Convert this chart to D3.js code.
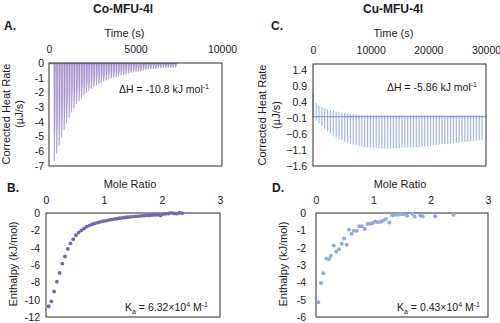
<!DOCTYPE html>
<html><head><meta charset="utf-8">
<script src="https://cdn.jsdelivr.net/npm/d3@7"></script>
<style>
body{margin:0;background:#fff}
svg{display:block}
text{font-family:"Liberation Sans",Arial,sans-serif;fill:#1a1a1a}
</style>
</head><body>
<svg id="chart" width="500" height="323"></svg>
<script>
// ---------- Panel A: Co-MFU-4l raw heat rate ----------
const coInjTime = [300,443,586,729,872,1015,1158,1301,1444,1587,1730,1873,2016,2159,2302,2445,2588,2731,2874,3017,3160,3303,3446,3589,3732,3875,4018,4161,4304,4447,4590,4733,4876,5019,5162,5305,5448,5591,5734,5877,6020,6163,6306,6449,6592,6735,6878,7021,7164,7307];
const coPeak = [-6.70,-6.15,-5.60,-5.05,-4.55,-4.10,-3.70,-3.35,-3.05,-2.80,-2.60,-2.40,-2.20,-2.03,-1.88,-1.75,-1.63,-1.52,-1.42,-1.33,-1.25,-1.18,-1.11,-1.05,-0.99,-0.94,-0.89,-0.84,-0.80,-0.76,-0.72,-0.68,-0.64,-0.60,-0.57,-0.54,-0.51,-0.48,-0.45,-0.43,-0.41,-0.39,-0.37,-0.36,-0.35,-0.34,-0.33,-0.32,-0.31,-0.30];

// ---------- Panel B: Co-MFU-4l integrated enthalpy ----------
const coRatio = [0.046,0.093,0.140,0.187,0.234,0.281,0.328,0.375,0.422,0.469,0.516,0.563,0.610,0.657,0.704,0.751,0.798,0.845,0.892,0.939,0.986,1.033,1.080,1.127,1.174,1.221,1.268,1.315,1.362,1.409,1.456,1.503,1.550,1.597,1.644,1.691,1.738,1.785,1.832,1.879,1.926,1.973,2.020,2.067,2.114,2.161,2.208,2.255,2.302,2.349];
const coEnthalpy = [-10.76,-10.19,-9.06,-7.93,-6.91,-5.85,-5.02,-4.15,-3.51,-3.02,-2.57,-2.26,-2.00,-1.78,-1.58,-1.42,-1.30,-1.20,-1.10,-1.02,-0.95,-0.88,-0.82,-0.76,-0.70,-0.65,-0.60,-0.56,-0.52,-0.48,-0.44,-0.41,-0.38,-0.35,-0.33,-0.30,-0.28,-0.26,-0.24,-0.22,-0.20,-0.28,-0.12,-0.10,-0.06,0.02,-0.05,-0.08,0.03,-0.02];

// ---------- Panel C: Cu-MFU-4l raw heat rate ----------
const cuInjTime = [50,546,1042,1538,2034,2530,3026,3522,4018,4514,5010,5506,6002,6498,6994,7490,7986,8482,8978,9474,9970,10466,10962,11458,11954,12450,12946,13442,13938,14434,14930,15426,15922,16418,16914,17410,17906,18402,18898,19394,19890,20386,20882,21378,21874,22370,22866,23362,23858,24354,24850,25346,25842,26338,26834,27330,27826,28322,28818,29314];
const cuUp = [0.68,0.38,0.30,0.25,0.21,0.18,0.15,0.13,0.11,0.09,0.07,0.06,0.05,0.04,0.03,0.02,0.01,0.01,0.00,0.00,0.00,-0.01,0.00,-0.01,0.00,-0.01,-0.01,0.00,-0.01,0.00,-0.01,0.00,-0.01,-0.01,0.00,-0.01,0.00,-0.01,0.00,-0.01,-0.01,0.00,-0.01,0.00,-0.01,0.00,-0.01,-0.01,0.00,-0.01,0.00,-0.01,0.00,-0.01,-0.01,0.00,-0.01,0.00,-0.01,0.00];
const cuDown = [-0.10,-0.18,-0.26,-0.34,-0.43,-0.50,-0.57,-0.64,-0.70,-0.75,-0.80,-0.84,-0.87,-0.90,-0.93,-0.95,-0.97,-0.99,-1.00,-1.01,-1.02,-1.03,-1.04,-1.04,-1.05,-1.05,-1.05,-1.05,-1.04,-1.04,-1.04,-1.03,-1.03,-1.02,-1.02,-1.01,-1.00,-1.00,-0.99,-0.98,-0.97,-0.96,-0.95,-0.94,-0.93,-0.92,-0.91,-0.90,-0.89,-0.88,-0.87,-0.86,-0.85,-0.84,-0.83,-0.82,-0.81,-0.80,-0.79,-0.78];
const cuBaseline = [-0.05,-0.05];
const cuBaselineTime = [0,30000];

// ---------- Panel D: Cu-MFU-4l integrated enthalpy ----------
const cuRatio = [0.04,0.087,0.128,0.18,0.227,0.26,0.31,0.35,0.40,0.45,0.49,0.535,0.576,0.62,0.66,0.71,0.756,0.80,0.85,0.895,0.94,0.99,1.035,1.08,1.13,1.17,1.22,1.28,1.33,1.37,1.43,1.49,1.53,1.59,1.675,1.72,1.82,1.86,2.08,2.40];
const cuEnthalpy = [-5.15,-4.04,-3.47,-2.62,-2.66,-2.47,-1.87,-2.24,-2.09,-1.77,-1.47,-1.83,-0.96,-1.19,-1.02,-1.02,-0.77,-0.77,-0.92,-0.64,-0.62,-0.58,-0.49,-0.53,-0.51,-0.43,-0.34,-0.55,-0.13,-0.10,-0.10,-0.06,-0.07,-0.16,-0.04,-0.20,-0.14,-0.19,-0.19,-0.10];

// ---------- ticks ----------
const timeTicksA = [0,5000,10000];
const heatTicksA = [0,-1,-2,-3,-4,-5,-6,-7];
const timeTicksC = [0,10000,20000,30000];
const heatTicksC = [1.4,0.9,0.4,-0.1,-0.6,-1.1,-1.6];
const ratioTicks = [0,1,2,3];
const enthTicksB = [0,-2,-4,-6,-8,-10,-12];
const enthTicksD = [0,-1,-2,-3,-4,-5,-6];

const svg = d3.select("#chart");
const FS = "10.5px";

function frame(x, y, xTicks, yTicks, xPad, yPad, xFmt, yFmt){
  const g = svg.append("g");
  const [x0,x1] = x.range(), [y0,y1] = y.range();
  const ax = g.append("g").attr("transform",`translate(0,${y1})`)
    .call(d3.axisTop(x).tickValues(xTicks).tickSize(0).tickPadding(xPad).tickFormat(xFmt||d3.format("d")));
  const ay = g.append("g").attr("transform",`translate(${x0},0)`)
    .call(d3.axisLeft(y).tickValues(yTicks).tickSize(0).tickPadding(yPad).tickFormat(yFmt||(d=>String(d))));
  [ax,ay].forEach(a=>{a.select(".domain").remove();
    a.selectAll("text").attr("font-family","Liberation Sans, Arial, sans-serif").attr("font-size",FS).attr("fill","#1a1a1a");});
  ax.selectAll("text").attr("dy","0");
  return g;
}
function box(x,y){
  const [x0,x1]=x.range(), [y0,y1]=y.range();
  svg.append("rect").attr("x",x0).attr("y",y1).attr("width",x1-x0).attr("height",y0-y1)
    .attr("fill","none").attr("stroke","#2b2b2b").attr("stroke-width",1);
}
function text(x,y,s,opt={}){
  const t = svg.append("text").attr("x",x).attr("y",y).attr("font-size",opt.size||"11px")
    .attr("text-anchor",opt.anchor||"middle");
  if(opt.bold) t.attr("font-weight","bold");
  if(opt.rot) t.attr("transform",`rotate(-90,${x},${y})`);
  t.text(s); return t;
}

// ===== Panel A =====
const xA = d3.scaleLinear([0,10000],[49,222]);
const yA = d3.scaleLinear([-7,0],[166,63]);
frame(xA,yA,timeTicksA,heatTicksA,10.5,5);
const spikeLine = d3.line();
svg.append("g").selectAll("path").data(coInjTime.map((t,i)=>({t,v:coPeak[i]}))).join("path")
  .attr("d",d=>spikeLine([[xA(d.t)-0.3,yA(0)],[xA(d.t),yA(d.v)],[xA(d.t)+0.9,yA(d.v*0.6)],[xA(d.t)+1.2,yA(0)]]))
  .attr("fill","#ab98d6").attr("stroke","#9782c6").attr("stroke-width",0.5);
svg.append("line").attr("x1",xA(0)).attr("x2",xA(coInjTime[coInjTime.length-1])+1)
  .attr("y1",yA(-0.05)).attr("y2",yA(-0.05)).attr("stroke","#9782c6").attr("stroke-width",1);
box(xA,yA);

// ===== Panel B =====
const xB = d3.scaleLinear([0,3],[46,220]);
const yB = d3.scaleLinear([-12,0],[317,213]);
frame(xB,yB,ratioTicks,enthTicksB,9,6);
box(xB,yB);
svg.append("g").selectAll("circle").data(coRatio.map((r,i)=>({r,v:coEnthalpy[i]}))).join("circle")
  .attr("cx",d=>xB(d.r)).attr("cy",d=>yB(d.v)).attr("r",1.9).attr("fill","#7865ad");

// ===== Panel C =====
const xC = d3.scaleLinear([0,30000],[313,486]);
const yC = d3.scaleLinear([-1.6,1.6],[166,64]);
frame(xC,yC,timeTicksC,heatTicksC,10.5,6,d3.format("d"),d3.format(".1f"));
svg.append("g").selectAll("line").data(cuInjTime.map((t,i)=>({t,u:cuUp[i],d:cuDown[i]}))).join("line")
  .attr("x1",d=>xC(d.t)).attr("x2",d=>xC(d.t)).attr("y1",d=>yC(d.u)).attr("y2",d=>yC(d.d))
  .attr("stroke","#9db6e4").attr("stroke-width",1.2);
svg.append("path").attr("d",d3.line()(cuBaselineTime.map((t,i)=>[xC(t),yC(cuBaseline[i])])))
  .attr("stroke","#7f9fd8").attr("stroke-width",1.3).attr("fill","none");
box(xC,yC);

// ===== Panel D =====
const xD = d3.scaleLinear([0,3],[316,488]);
const yD = d3.scaleLinear([-6,0],[317,213]);
frame(xD,yD,ratioTicks,enthTicksD,9.5,10);
box(xD,yD);
svg.append("g").selectAll("circle").data(cuRatio.map((r,i)=>({r,v:cuEnthalpy[i]}))).join("circle")
  .attr("cx",d=>xD(d.r)).attr("cy",d=>yD(d.v)).attr("r",2).attr("fill","#8eaadf");

// ===== Titles & labels =====
text(123,13,"Co-MFU-4l",{bold:true,size:"12px"});
text(393,13,"Cu-MFU-4l",{bold:true,size:"12px"});
text(4,30,"A.",{bold:true,size:"12px",anchor:"start"});
text(271,30,"C.",{bold:true,size:"12px",anchor:"start"});
text(7,192,"B.",{bold:true,size:"12px",anchor:"start"});
text(272,192,"D.",{bold:true,size:"12px",anchor:"start"});
text(124.5,37,"Time (s)");
text(393.5,37,"Time (s)");
text(130,188,"Mole Ratio");
text(400,188,"Mole Ratio");
text(10,114,"Corrected Heat Rate",{rot:true});
text(23,114,"(µJ/s)",{rot:true});
text(266,115,"Corrected Heat Rate",{rot:true});
text(280,115,"(µJ/s)",{rot:true});
text(17,264,"Enthalpy (kJ/mol)",{rot:true});
text(287,264,"Enthalpy (kJ/mol)",{rot:true});

function dH(x,y,val){
  const t = svg.append("text").attr("x",x).attr("y",y).attr("font-size","10.5px").attr("text-anchor","start");
  t.append("tspan").text(`ΔH = ${val} kJ mol`);
  t.append("tspan").attr("dy",-4).attr("font-size","7px").text("-1");
}
dH(119,93,"-10.8");
dH(387,91,"-5.86");
function ka(x,y,val){
  const t = svg.append("text").attr("x",x).attr("y",y).attr("font-size","10.5px").attr("text-anchor","start");
  t.append("tspan").text("K");
  t.append("tspan").attr("dy",2.5).attr("font-size","7px").text("a");
  t.append("tspan").attr("dy",-2.5).text(` = ${val}×10`);
  t.append("tspan").attr("dy",-4).attr("font-size","7px").text("4");
  t.append("tspan").attr("dy",4).text(" M");
  t.append("tspan").attr("dy",-4).attr("font-size","7px").text("-1");
}
ka(125,311,"6.32");
ka(397,311,"0.43");
</script>
</body></html>
